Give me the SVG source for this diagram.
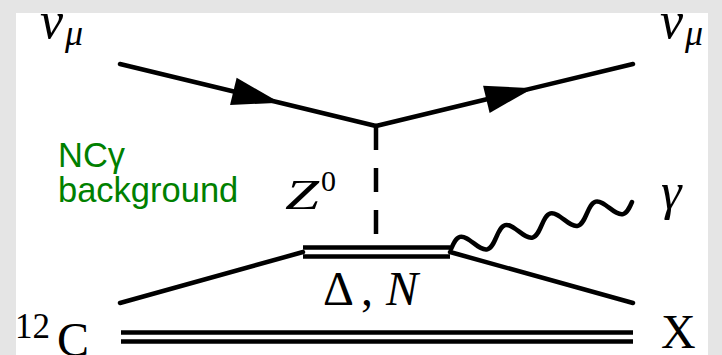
<svg xmlns="http://www.w3.org/2000/svg" width="722" height="355" viewBox="0 0 722 355">
  <style>
    .ln { fill: none; stroke: #000; stroke-width: 4.5; stroke-linecap: round; }
    .dbl { fill: none; stroke: #000; stroke-width: 4.5; stroke-linecap: butt; }
    .dash { fill: none; stroke: #000; stroke-width: 4.5; stroke-dasharray: 24 18; }
    .math { font-family: "Liberation Serif", "Times New Roman", serif; fill: #000; }
    .it { font-style: italic; }
    .green { font-family: "Liberation Sans", Arial, sans-serif; fill: #008000; font-size: 34.5px; }
  </style>
  <defs>
    <marker id="arrow" markerUnits="userSpaceOnUse" viewBox="-50 -16 52 32" markerWidth="52" markerHeight="32" refX="0" refY="0" orient="auto">
      <path d="M0,0 L-48,-14 L-48,14 Z" fill="#000"/>
    </marker>
  </defs>
  <rect x="0" y="0" width="722" height="355" fill="#fff"/>

  <g id="connectors">
    <path id="nu-in" class="ln" d="M120,64 L280,102.75 L376,126" marker-mid="url(#arrow)"/>
    <path id="nu-out" class="ln" d="M376,126 L533,88.13 L633,64" marker-mid="url(#arrow)"/>
    <path id="z-prop" class="dash" d="M376,126 V252"/>
    <path id="delta-prop" class="dbl" d="M303,247.5 H450 M303,256.5 H450"/>
    <path id="nucleon-in" class="ln" d="M120,303 L303,252"/>
    <path id="nucleon-out" class="ln" d="M450,252 L633,303"/>
    <path id="photon" class="ln" transform="translate(451,249) rotate(-14.56)" d="M0,0 C3.91,-4.99 7.47,-9.5 11.69,-9.5 S19.47,-4.99 23.38,0 S30.85,9.5 35.06,9.5 S42.84,4.99 46.75,0 S54.22,-9.5 58.44,-9.5 S66.22,-4.99 70.13,0 S77.6,9.5 81.82,9.5 S89.6,4.99 93.5,0 S100.97,-9.5 105.19,-9.5 S112.97,-4.99 116.88,0 S124.35,9.5 128.57,9.5 S136.35,4.99 140.25,0 S147.72,-9.5 151.94,-9.5 S159.72,-4.99 163.63,0 S171.1,9.5 175.32,9.5 S183.1,4.99 187,0"/>
    <path id="nucleus" class="dbl" d="M121,332.5 H633 M121,341.5 H633"/>
  </g>

  <g id="label-nu-in" class="math">
    <text x="40" y="38" class="it" font-size="52">ν</text>
    <text x="65" y="45" class="it" font-size="36">μ</text>
  </g>
  <g id="label-nu-out" class="math">
    <text x="660" y="38" class="it" font-size="52">ν</text>
    <text x="685" y="45" class="it" font-size="36">μ</text>
  </g>
  <g id="label-z" class="math">
    <text x="285" y="209" class="it" font-size="42" textLength="34" lengthAdjust="spacingAndGlyphs">Z</text>
    <text x="321" y="191" font-size="30">0</text>
  </g>
  <g id="label-delta" class="math">
    <text x="323" y="305" font-size="48">Δ</text>
    <text x="361" y="305" font-size="48">,</text>
    <text x="386" y="305" class="it" font-size="48">N</text>
  </g>
  <g id="label-gamma" class="math">
    <text x="661" y="209" class="it" font-size="52">γ</text>
  </g>
  <g id="label-x" class="math">
    <text x="661" y="348" font-size="48">X</text>
  </g>
  <g id="label-c12" class="math">
    <text x="15" y="338" font-size="35">12</text>
    <text x="57" y="356" font-size="48">C</text>
  </g>
  <g id="label-ncgamma">
    <text x="58" y="167" class="green">NCγ</text>
    <text x="58" y="202" class="green">background</text>
  </g>

  <path id="frame" fill="#e5e5e5" fill-rule="evenodd" d="M0,0 H722 V355 H0 Z M16,13 V355 H708 V13 Z"/>
</svg>
